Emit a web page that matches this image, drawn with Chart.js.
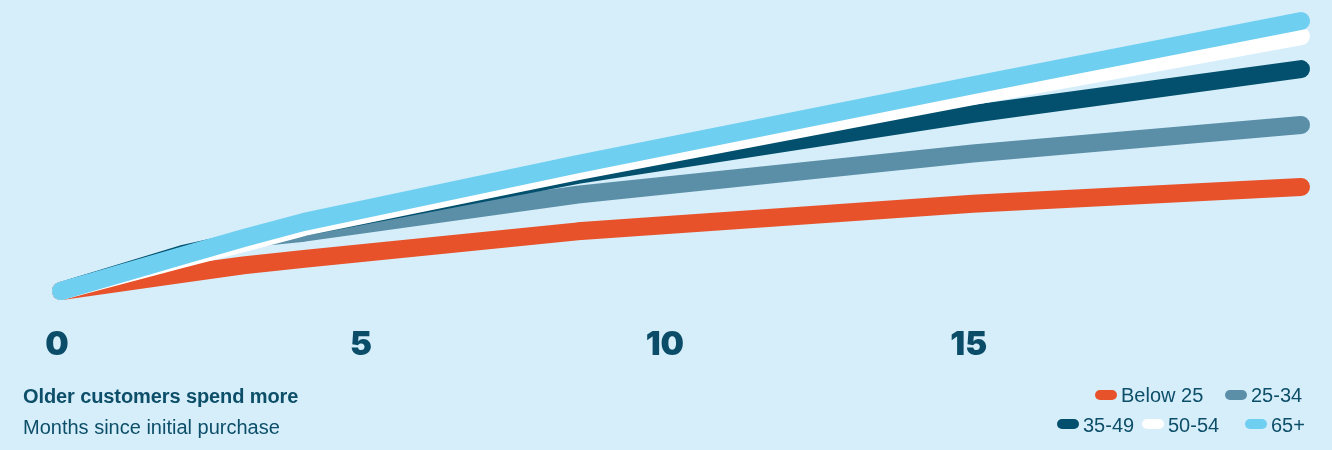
<!DOCTYPE html>
<html>
<head>
<meta charset="utf-8">
<script src="https://cdn.jsdelivr.net/npm/chart.js@4.4.1/dist/chart.umd.min.js"></script>
<style>
  html, body { margin: 0; padding: 0; background: #d6eefa; }
  #wrap { position: relative; width: 1332px; height: 450px; background: #d6eefa; overflow: hidden; }
  #c { position: absolute; left: 0; top: 0; }
  .txt { position: absolute; font-family: "Liberation Sans", Arial, sans-serif; font-size: 20px; line-height: 20px; color: #0d4e69; white-space: nowrap; }
  .title { font-weight: bold; letter-spacing: -0.1px; }
  .sw { position: absolute; width: 22px; height: 10px; border-radius: 5px; }
</style>
</head>
<body>
<div id="wrap">
  <canvas id="c" width="1332" height="450"></canvas>
  <div class="txt title" style="left:23px; top:386px;">Older customers spend more</div>
  <div class="txt" style="left:23px; top:417px;">Months since initial purchase</div>
  <div id="legend"></div>
</div>
<script>
// ---- data ----
const months     = [0, 2, 3, 4, 8.5, 15, 20.4];
const below25    = [0, 6.4, 9.5, 11.9, 22.1, 32.3, 38.5];
const age25to34  = [0, 12.8, 19.3, 21.6, 35.7, 50.9, 61.5];
const age35to49  = [0, 13.7, 18.7, 23.7, 43.0, 65.6, 82.2];
const age50to54  = [0, 11.9, 17.8, 23.7, 44.4, 72.2, 94.4];
const age65plus  = [0, 13.1, 19.6, 25.6, 47.0, 76.2, 100];
const xTicks     = [0, 5, 10, 15];
const seriesNames = ['Below 25', '25-34', '35-49', '50-54', '65+'];
const seriesColors = ['#e8522a', '#5b8fa8', '#02506d', '#ffffff', '#6fcff1'];

const seriesValues = [below25, age25to34, age35to49, age50to54, age65plus];
const toPoints = vals => months.map((m, i) => ({ x: m, y: vals[i] }));

// draw order: first dataset is drawn on top, so reverse
const datasets = seriesValues.map((vals, i) => ({
  label: seriesNames[i],
  data: toPoints(vals),
  borderColor: seriesColors[i],
  backgroundColor: seriesColors[i],
  clip: false
})).reverse();

new Chart(document.getElementById('c'), {
  type: 'line',
  data: { datasets },
  options: {
    responsive: false,
    animation: false,
    devicePixelRatio: 1,
    layout: { padding: { left: 61, right: 31, top: 21, bottom: 79 } },
    plugins: { legend: { display: false }, tooltip: { enabled: false } },
    elements: {
      point: { radius: 0, hoverRadius: 0 },
      line: { borderWidth: 18, borderCapStyle: 'round', borderJoinStyle: 'round', tension: 0, fill: false }
    },
    scales: {
      x: {
        type: 'linear', min: 0, max: 20.4,
        grid: { display: false, drawTicks: false },
        border: { display: false },
        afterBuildTicks: s => { s.ticks = xTicks.map(v => ({ value: v })); },
        afterFit: s => { s.height = 80; },
        ticks: {
          autoSkip: false, maxRotation: 0, padding: 34, labelOffset: -4,
          color: '#0b4d68',
          font: { family: 'Inter, Roboto, Lato, sans-serif', size: 33, weight: '900' }
        }
      },
      y: { display: false, min: 0, max: 100 }
    }
  }
});

// ---- legend (HTML) ----
const legendPos = [
  { sw: 1095, tx: 1121, row: 0 },
  { sw: 1225, tx: 1251, row: 0 },
  { sw: 1057, tx: 1083, row: 1 },
  { sw: 1142, tx: 1168, row: 1 },
  { sw: 1245, tx: 1271, row: 1 }
];
const rowSwTop = [390, 419];
const rowTxTop = [385, 415];
const lg = document.getElementById('legend');
seriesNames.forEach((name, i) => {
  const p = legendPos[i];
  const s = document.createElement('div');
  s.className = 'sw';
  s.style.left = p.sw + 'px'; s.style.top = rowSwTop[p.row] + 'px';
  s.style.background = seriesColors[i];
  lg.appendChild(s);
  const t = document.createElement('div');
  t.className = 'txt';
  t.style.left = p.tx + 'px'; t.style.top = rowTxTop[p.row] + 'px';
  t.textContent = name;
  lg.appendChild(t);
});
</script>
</body>
</html>
